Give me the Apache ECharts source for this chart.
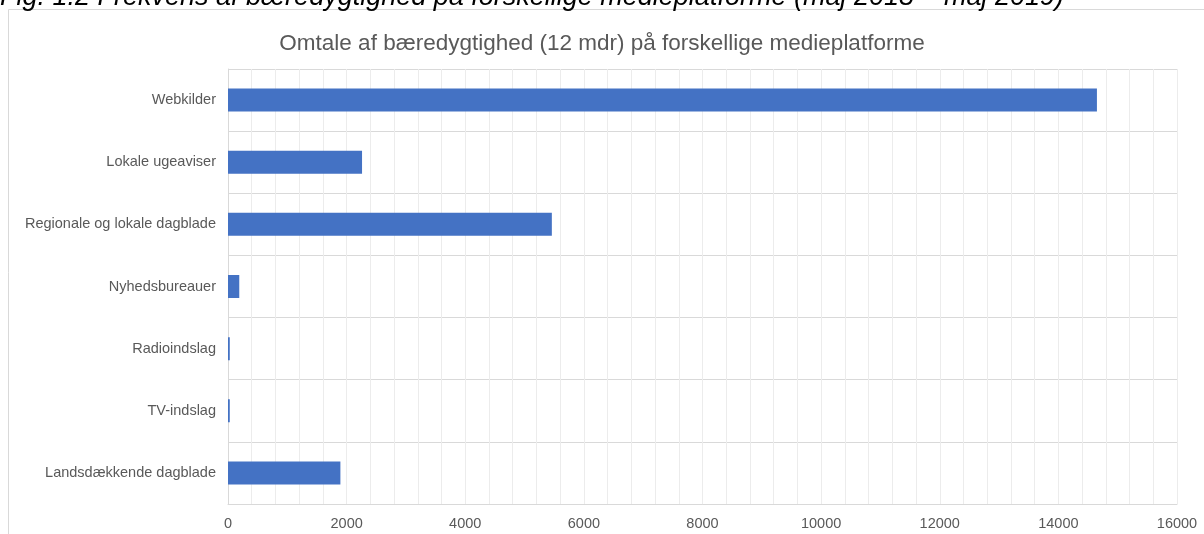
<!DOCTYPE html>
<html><head><meta charset="utf-8">
<script src="https://cdn.jsdelivr.net/npm/echarts@6/dist/echarts.min.js"></script>
<style>html,body{margin:0;padding:0;background:#fff}#c{width:1204px;height:534px}</style>
</head><body><div id="c"></div>
<script>
const categories = ['Webkilder','Lokale ugeaviser','Regionale og lokale dagblade','Nyhedsbureauer','Radioindslag','TV-indslag','Landsdækkende dagblade'];
const values = [14650, 2260, 5460, 190, 30, 30, 1895];
const xTicks = [0, 2000, 4000, 6000, 8000, 10000, 12000, 14000, 16000];
const titleText = 'Omtale af bæredygtighed (12 mdr) på forskellige medieplatforme';
const captionText = 'Fig. 1.2 Frekvens af bæredygtighed på forskellige medieplatforme (maj 2018 – maj 2019)';

const chart = echarts.init(document.getElementById('c'), null, {renderer: 'canvas'});
chart.setOption({
  animation: false,
  textStyle: {fontFamily: 'Liberation Sans, Arial, sans-serif'},
  title: {
    text: titleText, left: 'center', top: 27,
    textStyle: {fontSize: 22.5, fontWeight: 'normal', color: '#595959', fontFamily: 'Liberation Sans, Arial, sans-serif'}
  },
  graphic: [
    {type: 'rect', shape: {x: 8.5, y: 9.5, width: 1300, height: 600}, style: {fill: 'none', stroke: '#d9d9d9', lineWidth: 1}, z: -1},
    {type: 'text', left: 0, top: -16, style: {text: captionText, font: 'italic 27px "Liberation Sans", Arial, sans-serif', fill: '#000'}}
  ],
  grid: {left: 228, right: 27, top: 69, bottom: 30, containLabel: false},
  xAxis: {
    type: 'value', min: xTicks[0], max: xTicks[xTicks.length - 1], interval: 2000,
    axisLine: {show: true, lineStyle: {color: '#d9d9d9', width: 1}},
    axisTick: {show: false},
    axisLabel: {color: '#595959', fontSize: 14.5, margin: 12, formatter: v => String(v)},
    splitLine: {show: true, lineStyle: {color: '#ececec', width: 1}},
    minorTick: {show: false, splitNumber: 5},
    minorSplitLine: {show: true, lineStyle: {color: '#ececec', width: 1}}
  },
  yAxis: {
    type: 'category', data: categories, inverse: true,
    axisLine: {show: true, lineStyle: {color: '#d9d9d9', width: 1}},
    axisTick: {show: false},
    axisLabel: {color: '#595959', fontSize: 14.5, margin: 12},
    splitLine: {show: true, lineStyle: {color: '#d9d9d9', width: 1}}
  },
  series: [{
    type: 'bar', data: values, barWidth: 23,
    itemStyle: {color: '#4472C4'}
  }]
});
</script></body></html>
